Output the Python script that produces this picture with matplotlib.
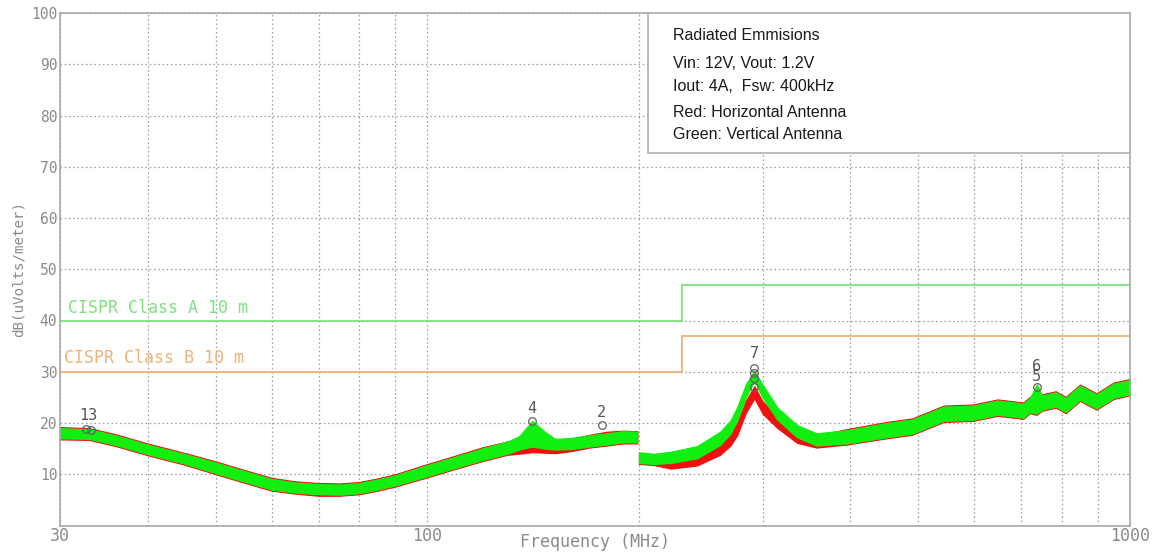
import matplotlib
matplotlib.use("Agg")
import matplotlib.pyplot as plt
from matplotlib.patches import Rectangle
from matplotlib.transforms import blended_transform_factory

# ---------------- data ----------------
seg1_freq = [30, 33, 36, 40, 45, 50, 55, 60, 65, 70, 75, 80, 85, 90, 100, 110, 120,
             130, 135, 141, 147, 152, 160, 170, 180, 190, 199]
green1_lo = [17.0, 16.9, 15.7, 13.9, 12.1, 10.2, 8.5, 7.0, 6.4, 6.1, 6.0, 6.3, 7.0, 7.8,
             9.6, 11.3, 12.8, 14.0, 14.8, 15.4, 15.0, 14.8, 14.9, 15.4, 15.8, 16.2, 16.2]
green1_hi = [19.0, 18.8, 17.6, 15.8, 14.0, 12.3, 10.6, 9.1, 8.4, 8.1, 8.0, 8.3, 9.0, 9.8,
             11.8, 13.5, 15.1, 16.4, 17.4, 20.4, 18.3, 16.9, 17.1, 17.6, 18.0, 18.4, 18.3]
red1_lo = [16.8, 16.7, 15.5, 13.7, 11.9, 10.0, 8.3, 6.8, 6.2, 5.8, 5.8, 6.1, 6.8, 7.6,
           9.4, 11.1, 12.6, 13.8, 14.0, 14.3, 14.2, 14.1, 14.5, 15.2, 15.6, 16.0, 16.0]
red1_hi = [19.2, 19.0, 17.8, 16.0, 14.2, 12.5, 10.8, 9.3, 8.6, 8.3, 8.2, 8.5, 9.2, 10.0,
           12.0, 13.7, 15.3, 16.4, 16.0, 16.2, 16.1, 16.3, 16.9, 17.7, 18.3, 18.5, 18.4]

seg2_freq = [200, 210, 222, 242, 261, 270, 276, 284, 292, 300, 315, 336, 358, 395, 450,
             490, 543, 597, 648, 705, 720, 737, 750, 784, 810, 849, 896, 948, 1000]
green2_lo = [12.2, 12.0, 12.2, 13.1, 15.7, 17.9, 20.5, 25.0, 28.2, 24.9, 20.6, 17.2, 15.6,
             16.0, 17.2, 17.9, 20.4, 20.6, 21.6, 21.0, 22.1, 21.8, 22.6, 23.2, 22.1, 24.5,
             22.8, 24.9, 25.6]
green2_hi = [14.3, 14.0, 14.4, 15.5, 18.3, 20.5, 23.1, 27.6, 30.2, 27.5, 23.0, 19.6, 18.0,
             18.6, 20.0, 20.7, 23.2, 23.4, 24.4, 23.8, 24.9, 27.5, 25.4, 26.0, 24.9, 27.3,
             25.6, 27.7, 28.4]
red2_lo = [12.0, 11.8, 11.1, 11.7, 13.8, 15.6, 17.6, 22.0, 24.8, 21.8, 19.0, 16.1, 15.2,
           15.8, 17.0, 17.7, 20.2, 20.4, 21.4, 20.8, 21.9, 21.6, 22.4, 23.0, 21.9, 24.3,
           22.6, 24.7, 25.4]
red2_hi = [14.1, 13.9, 13.3, 13.9, 16.2, 18.0, 20.0, 24.4, 27.2, 24.2, 21.4, 18.5, 17.6,
           18.8, 20.2, 20.9, 23.4, 23.6, 24.6, 24.0, 25.1, 24.8, 25.6, 26.2, 25.1, 27.5,
           25.8, 27.9, 28.6]

limit_edges = [30, 230, 1000]
classA_levels = [40, 47]
classB_levels = [30, 37]

marker_freq = [32.7, 33.2, 141, 177, 292, 292, 292, 292, 737]
marker_level = [18.8, 18.6, 20.4, 19.6, 30.7, 29.7, 28.7, 27.1, 27.1]
label_text = ["13", "4", "2", "7", "6\n5"]
label_freq = [32.9, 141, 177, 292, 737]
label_level = [21.4, 22.9, 22.0, 33.5, 30.1]

x_major = [30, 100, 1000]
x_minor = [40, 50, 60, 70, 80, 90, 200, 300, 400, 500, 600, 700, 800, 900]
y_ticks = [0, 10, 20, 30, 40, 50, 60, 70, 80, 90, 100]

info_lines = ["Radiated Emmisions", "Vin: 12V, Vout: 1.2V", "Iout: 4A,  Fsw: 400kHz",
              "Red: Horizontal Antenna", "Green: Vertical Antenna"]
info_y = [95.7, 90.1, 85.6, 80.5, 76.2]

# ---------------- styling ----------------
GRAY = "#8a8a8a"
MONO = "DejaVu Sans Mono"
RED = "#f01010"
GREEN = "#10f010"
LIM_A = "#80e080"
LIM_B = "#efb27a"

fig = plt.figure(figsize=(11.54, 5.52), dpi=100)
ax = fig.add_axes([60 / 1154, 1 - 525.5 / 552, 1070 / 1154, 512.5 / 552])
ax.set_xscale("log")
ax.set_xlim(30, 1000)
ax.set_ylim(0, 100)

for sp in ax.spines.values():
    sp.set_color("#a8a8a8")
    sp.set_linewidth(1.2)

ax.set_xticks(x_major)
ax.set_xticklabels([str(v) for v in x_major])
ax.set_xticks(x_minor, minor=True)
ax.set_xticklabels([], minor=True)
ax.set_yticks(y_ticks)
ax.set_yticklabels([""] + [str(v) for v in y_ticks[1:]])
ax.tick_params(axis="both", which="both", length=0, colors=GRAY)
ax.tick_params(axis="x", pad=1, labelsize=12)
ax.tick_params(axis="y", pad=2, labelsize=10.5)
for lab in ax.get_xticklabels() + ax.get_yticklabels():
    lab.set_family(MONO)

ax.grid(True, which="both", linestyle=(0, (1.2, 2.2)), color="#9a9a9a", linewidth=0.9)
ax.set_axisbelow(True)

fig.text(595 / 1154, 1 - 542 / 552, "Frequency (MHz)", family=MONO, color=GRAY,
         fontsize=12, ha="center", va="center")
ax.set_ylabel("dB(uVolts/meter)", family=MONO, color=GRAY, fontsize=10.2, labelpad=4)

# limit lines
ax.stairs(classA_levels, limit_edges, baseline=None, color=LIM_A, linewidth=1.3)
ax.stairs(classB_levels, limit_edges, baseline=None, color=LIM_B, linewidth=1.3)
ax.text(30.8, 42.5, "CISPR Class A 10 m", family=MONO, color=LIM_A, fontsize=12,
        va="center", ha="left")
ax.text(30.4, 32.6, "CISPR Class B 10 m", family=MONO, color=LIM_B, fontsize=12,
        va="center", ha="left")

# traces (red = horizontal, green = vertical)
for f, lo, hi in [(seg1_freq, red1_lo, red1_hi), (seg2_freq, red2_lo, red2_hi)]:
    ax.fill_between(f, lo, hi, color=RED, linewidth=0.8, edgecolor=RED)
for f, lo, hi in [(seg1_freq, green1_lo, green1_hi), (seg2_freq, green2_lo, green2_hi)]:
    ax.fill_between(f, lo, hi, color=GREEN, linewidth=0.8, edgecolor=GREEN)

# markers
ax.plot(marker_freq, marker_level, linestyle="none", marker="o", markersize=5.5,
        markerfacecolor="none", markeredgecolor="#606060", markeredgewidth=0.9)
for t, f, v in zip(label_text, label_freq, label_level):
    ax.text(f, v, t, family=MONO, color="#555555", fontsize=11, ha="center",
            va="center", linespacing=0.55)

# info box
ax.add_patch(Rectangle((0.5495, 0.727), 0.4505, 0.273, transform=ax.transAxes,
                       facecolor="white", edgecolor="#b0b0b0", linewidth=1.2, zorder=5))
btr = blended_transform_factory(ax.transAxes, ax.transData)
for t, yv in zip(info_lines, info_y):
    ax.text(0.573, yv, t, transform=btr, family="Liberation Sans", fontsize=11.5,
            color="#1a1a1a", va="center", ha="left", zorder=6)

fig.savefig("out.png", dpi=100, facecolor="white")
